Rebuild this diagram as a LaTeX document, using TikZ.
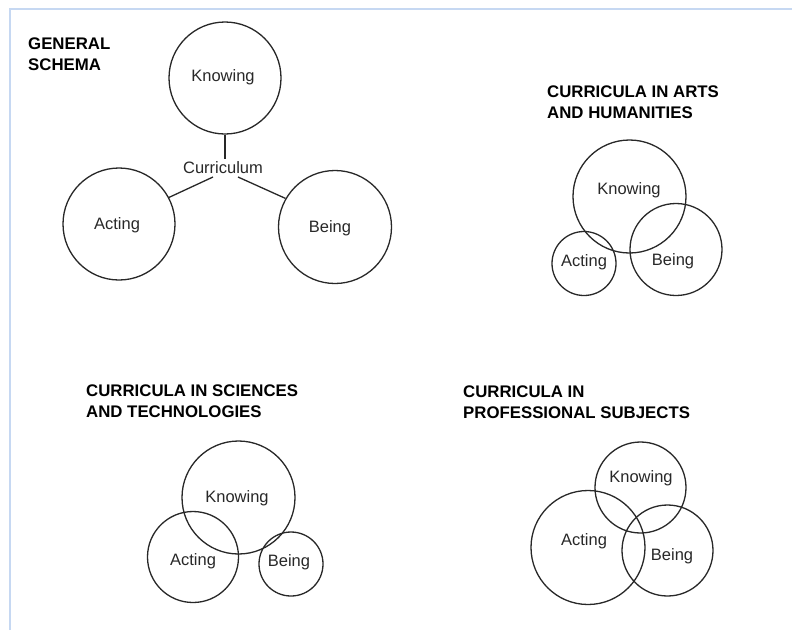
\documentclass[tikz,border=0pt]{standalone}
\usepackage{fontspec}
\setmainfont{Liberation Sans}
\definecolor{frameblue}{RGB}{198,216,242}
\definecolor{ink}{RGB}{40,40,40}
\begin{document}
\begin{tikzpicture}[x=1pt,y=-1pt,
  ring/.style={circle,draw=ink,line width=1.3pt,inner sep=0pt,minimum size=#1},
  lbl/.style={font=\fontsize{16.5}{19}\selectfont,text=ink,inner sep=0pt},
  ttl/.style={font=\fontsize{16.8}{21}\selectfont\bfseries,align=left,anchor=north west,inner sep=0pt,text=black},
  link/.style={draw=ink,line width=1.3pt}]
\useasboundingbox (0,0) rectangle (792,630);
\fill[white] (0,0) rectangle (792,630);
% page frame
\draw[frameblue,line width=2pt] (10,630) -- (10,9) -- (792,9);

% general schema
\node[ttl] (t1) at (28,38) {GENERAL\\SCHEMA};
\node[ring=112pt] (gk) at (225,78) {};
\node[ring=112pt] (ga) at (119,224) {};
\node[ring=113pt] (gb) at (335,227) {};
\node[lbl] (lgk) at (223,77) {Knowing};
\node[lbl] (lga) at (117,225) {Acting};
\node[lbl] (lgb) at (330,228) {Being};
\node[lbl] (cur) at (223,168) {Curriculum};
\coordinate (cn) at (225,159);
\coordinate (cl) at (213,177);
\coordinate (cr) at (238,177);
\draw[link] (gk.south) -- (cn);
\draw[link] (cl) -- (ga.28);
\draw[link] (cr) -- (gb.150);

% arts and humanities
\node[ttl] (t2) at (547,86) {CURRICULA IN ARTS\\AND HUMANITIES};
\node[ring=113pt] (ak) at (629.5,196.5) {};
\node[ring=92pt] (ab) at (676,249.5) {};
\node[ring=64pt] (aa) at (584,263.5) {};
\node[lbl] (lak) at (629,190) {Knowing};
\node[lbl] (lab) at (673,261) {Being};
\node[lbl] (laa) at (584,262) {Acting};

% sciences and technologies
\node[ttl] (t3) at (86,385) {CURRICULA IN SCIENCES\\AND TECHNOLOGIES};
\node[ring=113pt] (sk) at (238.5,497.5) {};
\node[ring=91pt] (sa) at (193,557) {};
\node[ring=64pt] (sb) at (291,564) {};
\node[lbl] (lsk) at (237,498) {Knowing};
\node[lbl] (lsa) at (193,561) {Acting};
\node[lbl] (lsb) at (289,562) {Being};

% professional subjects
\node[ttl] (t4) at (463,386) {CURRICULA IN\\PROFESSIONAL SUBJECTS};
\node[ring=91pt] (pk) at (640.5,487.5) {};
\node[ring=114pt] (pa) at (588,547.5) {};
\node[ring=91pt] (pb) at (667.5,550.5) {};
\node[lbl] (lpk) at (641,478) {Knowing};
\node[lbl] (lpa) at (584,541) {Acting};
\node[lbl] (lpb) at (672,556) {Being};
\end{tikzpicture}
\end{document}
